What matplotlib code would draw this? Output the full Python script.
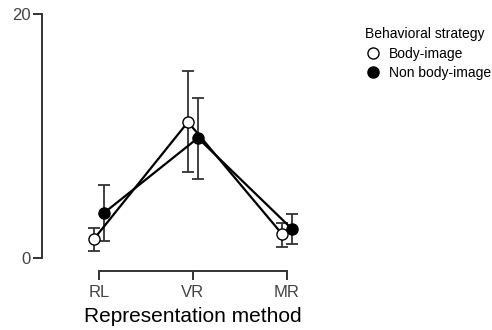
import matplotlib
matplotlib.use("Agg")
import matplotlib.pyplot as plt
from matplotlib.lines import Line2D
import numpy as np

plt.rcParams['font.family'] = ['Liberation Sans', 'DejaVu Sans']

methods = ["RL", "VR", "MR"]
body_mean = [1.56, 11.15, 1.97]
body_lo = [0.57, 7.05, 0.90]
body_hi = [2.46, 15.30, 2.87]
non_mean = [3.69, 9.84, 2.38]
non_lo = [1.39, 6.50, 1.15]
non_hi = [5.98, 13.10, 3.60]
y_ticks = [0, 20]

fig = plt.figure(figsize=(4.92, 3.30), dpi=100)
ax = fig.add_axes([42 / 492, (330 - 258) / 330, (310 - 42) / 492, 244 / 330])

x = np.arange(len(methods))
dodge = 0.053
series = [
    (body_mean, body_lo, body_hi, "white", -dodge, "Body-image"),
    (non_mean, non_lo, non_hi, "black", dodge, "Non body-image"),
]
for mean, lo, hi, face, off, name in series:
    xs = x + off
    mean = np.array(mean)
    yerr = [mean - np.array(lo), np.array(hi) - mean]
    ax.errorbar(xs, mean, yerr=yerr, fmt="none", ecolor="#333333",
                elinewidth=1.3, capsize=4.5, capthick=1.3, zorder=2)
    ax.plot(xs, mean, color="black", lw=1.6, zorder=3)
for mean, lo, hi, face, off, name in series:
    ax.plot(x + off, mean, linestyle="none", marker="o", markersize=8,
            markerfacecolor=face, markeredgecolor="black",
            markeredgewidth=1.0, zorder=4)

ax.set_xlim(-0.606, 2.245)
ax.set_ylim(0, 20)
ax.set_xticks(x)
ax.set_xticklabels(methods)
ax.set_yticks(y_ticks)

for s in ["top", "right"]:
    ax.spines[s].set_visible(False)
ax.spines["bottom"].set_position(("outward", 9))
ax.spines["bottom"].set_bounds(0, 2)
ax.spines["left"].set_bounds(0, 20)
for s in ["bottom", "left"]:
    ax.spines[s].set_color("#333333")
    ax.spines[s].set_linewidth(1.4)

ax.tick_params(axis="both", length=6.5, width=1.4, color="#333333",
               labelsize=12, labelcolor="#444444")
ax.tick_params(axis="x", pad=4)
ax.tick_params(axis="y", pad=1.5)
ax.set_xlabel("Representation method", fontsize=15, color="black", labelpad=5)
# centre the axis title under the middle category
ax.xaxis.label.set_x(ax.transAxes.inverted().transform(
    ax.transData.transform((1, 0)))[0])

handles = [
    Line2D([], [], linestyle="none", marker="o", markersize=8,
           markerfacecolor="white", markeredgecolor="black", markeredgewidth=1.0),
    Line2D([], [], linestyle="none", marker="o", markersize=8,
           markerfacecolor="black", markeredgecolor="black"),
]
leg = fig.legend(handles, ["Body-image", "Non body-image"],
                 title="Behavioral strategy", loc="upper left",
                 bbox_to_anchor=(365 / 492, 1 - 27 / 330), frameon=False,
                 fontsize=10, title_fontsize=10, alignment="left",
                 handletextpad=0.5, labelspacing=0.4, handlelength=1.2,
                 borderpad=0, borderaxespad=0)

fig.savefig("out.png", dpi=100)
